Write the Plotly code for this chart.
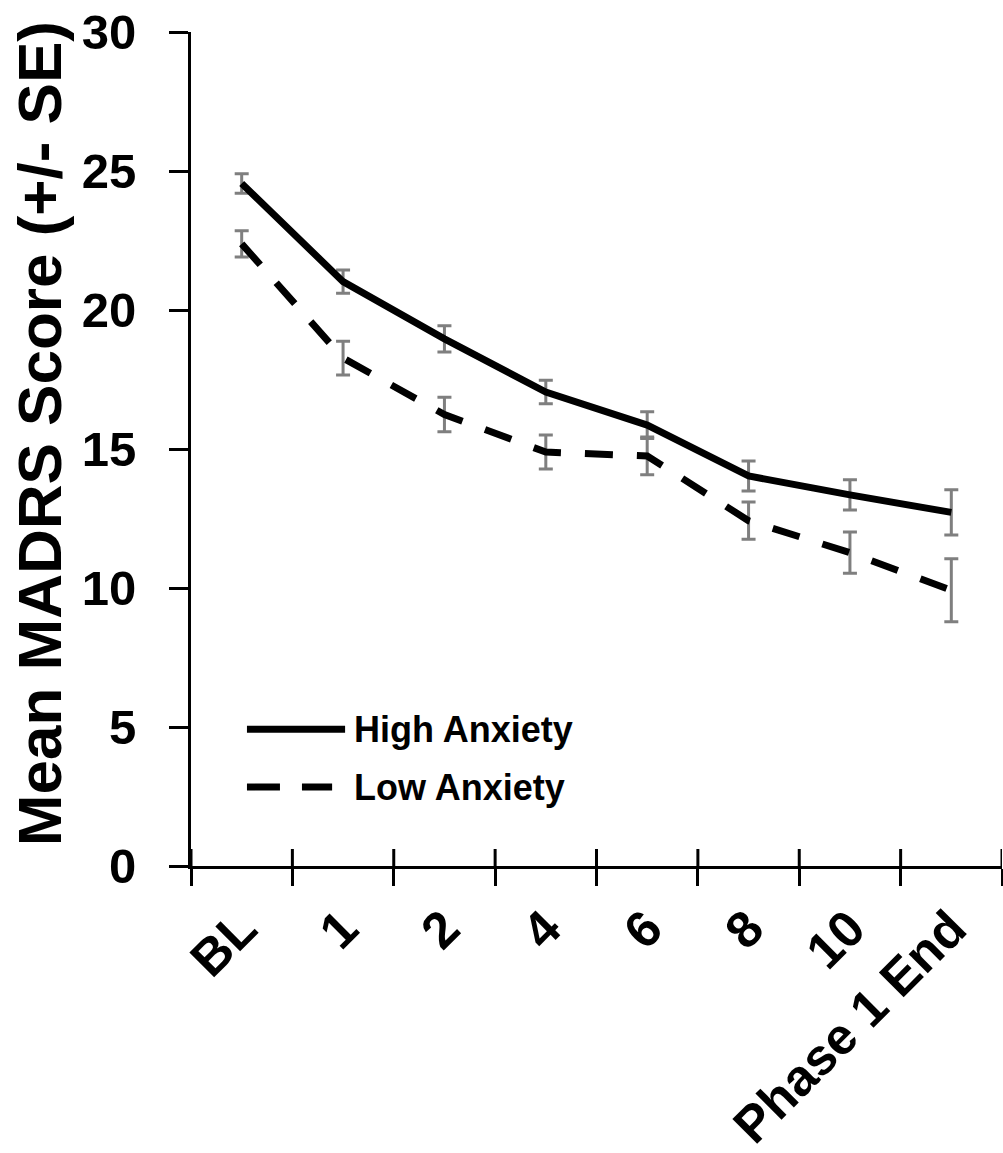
import plotly.graph_objects as go

categories = ["BL", "1", "2", "4", "6", "8", "10", "Phase 1 End"]
high_mean = [24.55, 21.02, 18.96, 17.05, 15.86, 14.03, 13.35, 12.72]
high_se = [0.35, 0.42, 0.47, 0.42, 0.48, 0.54, 0.54, 0.81]
low_mean = [22.38, 18.27, 16.24, 14.89, 14.75, 12.42, 11.27, 9.92]
low_se = [0.47, 0.61, 0.62, 0.61, 0.68, 0.67, 0.74, 1.13]
y_ticks = [0, 5, 10, 15, 20, 25, 30]

FONT = "Liberation Sans, Arial, sans-serif"
err_style = dict(type="data", visible=True, color="#7f7f7f", thickness=3, width=7)

idx = list(range(len(categories)))
bounds = [i - 0.5 for i in range(len(categories) + 1)]
xr = [-0.5, len(categories) - 0.5]

W, H = 1003, 1153
ML, MT, MR, MB = 191, 32, 1, 287
plot_h = H - MT - MB
TICKLEN = 17

fig = go.Figure()
fig.add_trace(go.Scatter(
    x=idx, y=high_mean, mode="lines", name="High Anxiety",
    line=dict(color="black", width=7),
    error_y=dict(array=high_se, **err_style),
    showlegend=False,
))
fig.add_trace(go.Scatter(
    x=idx, y=low_mean, mode="lines", name="Low Anxiety",
    line=dict(color="black", width=7, dash="28px,24px"),
    error_y=dict(array=low_se, **err_style),
    showlegend=False,
))

fig.update_layout(
    width=W, height=H,
    margin=dict(l=ML, r=MR, t=MT, b=MB),
    paper_bgcolor="white", plot_bgcolor="white",
    font=dict(family=FONT, color="black", weight="bold"),
    xaxis=dict(
        range=xr, tickvals=idx, ticktext=categories, ticks="",
        minor=dict(ticks="outside", tick0=-0.5, dtick=1, ticklen=TICKLEN, tickwidth=3,
                   tickcolor="black", showgrid=False),
        showline=True, linewidth=3, linecolor="black",
        showgrid=False, zeroline=False, automargin=False,
        tickangle=-45, tickfont=dict(size=51, family=FONT, weight="bold"),
        ticklabelstandoff=9, ticklabeloverflow="allow",
    ),
    yaxis=dict(
        range=[0, 30], tickvals=y_ticks, ticks="outside", ticklen=19, tickwidth=3,
        tickcolor="black", showline=True, linewidth=3, linecolor="black",
        showgrid=False, zeroline=False, automargin=False,
        tickfont=dict(size=49, family=FONT, weight="bold"), ticklabelstandoff=23,
        ticklabeloverflow="allow",
    ),
    showlegend=False,
)

# upper half of the crossing x-axis ticks at category boundaries
for b in bounds:
    fig.add_shape(type="line", xref="x", yref="paper", x0=b, x1=b, y0=0,
                  y1=TICKLEN / plot_h, line=dict(color="black", width=3))

fig.add_annotation(
    text="Mean MADRS Score (+/- SE)", textangle=-90, xref="paper", yref="paper",
    x=-0.186, y=0.518, xanchor="center", yanchor="middle", showarrow=False,
    font=dict(size=62, family=FONT, weight="bold", color="black"),
)

# legend drawn manually
leg = [("High Anxiety", "solid", 0.164, 0.190), ("Low Anxiety", "33px,22px", 0.0947, 0.174)]
for label, dash, yy, xend in leg:
    fig.add_shape(type="line", xref="paper", yref="paper", x0=0.069, x1=xend,
                  y0=yy, y1=yy, line=dict(color="black", width=7, dash=dash))
    fig.add_annotation(text=label, xref="paper", yref="paper", x=0.199, y=yy,
                       xanchor="left", yanchor="middle", showarrow=False,
                       font=dict(size=36, family=FONT, weight="bold", color="black"))

fig.write_html(
    "out.html",
    config={"displayModeBar": False},
    post_script="document.body.style.margin='0';document.body.style.overflow='hidden';",
)
